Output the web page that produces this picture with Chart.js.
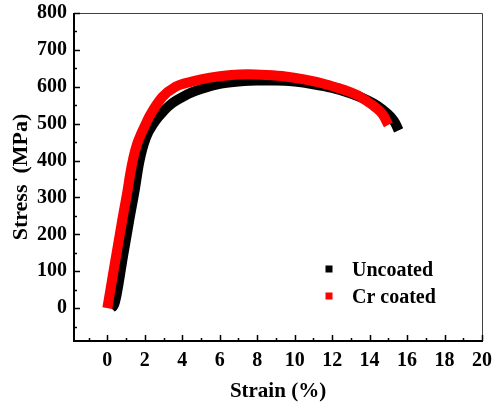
<!DOCTYPE html>
<html><head><meta charset="utf-8">
<script src="https://cdn.jsdelivr.net/npm/chart.js@4/dist/chart.umd.min.js"></script>
<style>html,body{margin:0;padding:0;background:#fff;}canvas{display:block;}</style>
</head><body>
<canvas id="c" width="500" height="409"></canvas>
<script>
const seriesNames = ['Uncoated', 'Cr coated'];
const seriesColors = ['#000000', '#ff0000'];
const uncoatedStrain = [0.2, 0.35, 0.5, 0.83, 1.14, 1.46, 1.7, 2.05, 2.5, 3, 3.45, 4, 4.5, 5, 6, 7, 8, 9, 10, 11, 12, 13, 13.6, 14.2, 14.7, 15.1, 15.35, 15.55];
const uncoatedStress = [0, 8, 38, 139, 230, 320, 395, 461, 503, 534, 555, 572, 585, 594, 608, 614, 617, 617, 614, 607, 597, 582, 570, 555, 538, 520, 503, 482];
const crStrain = [0, 0.43, 0.8, 1.1, 1.2, 1.4, 1.6, 1.8, 2.0, 2.27, 2.93, 3.63, 4.5, 5.4, 6.6, 7.5, 8.5, 9.5, 10.5, 11.5, 12.3, 12.9, 13.4, 13.8, 14.3, 14.7, 15.0];
const crStress = [0, 130, 240, 325, 358, 410, 447, 472, 494, 522, 572, 600, 614, 624, 632, 634, 632, 628, 620, 609, 597, 587, 576, 563, 545, 525, 497];
const xTickLabels = [0, 2, 4, 6, 8, 10, 12, 14, 16, 18, 20];
const yTickLabels = [0, 100, 200, 300, 400, 500, 600, 700, 800];
const xTitle = 'Strain (%)';
const yTitle = 'Stress  (MPa)';

const serif = '"Liberation Serif", "Times New Roman", serif';
const toPts = (xs, ys) => xs.map((v, i) => ({x: v, y: ys[i]}));

const frameTicks = {
  id: 'frameTicks',
  afterDraw(chart) {
    const {ctx, chartArea: a, scales: {x, y}} = chart;
    ctx.save();
    ctx.strokeStyle = '#404040'; ctx.lineWidth = 1;
    ctx.beginPath();
    ctx.moveTo(a.left, a.top + 0.5); ctx.lineTo(a.right + 0.5, a.top + 0.5); ctx.lineTo(a.right + 0.5, a.bottom);
    ctx.stroke();
    ctx.strokeStyle = '#000'; ctx.lineWidth = 2;
    ctx.beginPath();
    ctx.moveTo(a.left, a.top); ctx.lineTo(a.left, a.bottom); ctx.lineTo(a.right + 1, a.bottom);
    ctx.stroke();
    ctx.lineWidth = 1.5;
    ctx.beginPath();
    x.ticks.forEach(t => {
      const px = Math.round(x.getPixelForValue(t.value)) + 0.5;
      const len = xTickLabels.includes(t.value) ? 6 : 3;
      ctx.moveTo(px, a.bottom); ctx.lineTo(px, a.bottom - len);
    });
    y.ticks.forEach(t => {
      const py = Math.round(y.getPixelForValue(t.value)) + 0.5;
      const len = yTickLabels.includes(t.value) ? 6 : 3;
      ctx.moveTo(a.left, py); ctx.lineTo(a.left + len, py);
    });
    ctx.stroke();
    // legend
    ctx.font = 'bold 20px ' + serif;
    ctx.textBaseline = 'alphabetic';
    ctx.textAlign = 'left';
    const lx = a.left + 255, rows = [a.top + 256, a.top + 283];
    chart.data.datasets.forEach((ds, i) => {
      ctx.fillStyle = ds.borderColor;
      ctx.fillRect(lx - 3.5, rows[i] - 3.5, 7, 7);
      ctx.fillStyle = '#000';
      ctx.fillText(ds.label, lx + 23, rows[i] + 6.5);
    });
    ctx.restore();
  }
};

const tickFont = {family: serif, size: 20, weight: 'bold'};
const titleFont = {family: serif, size: 21, weight: 'bold'};
const yTitleFont = {family: serif, size: 22, weight: 'bold'};

new Chart(document.getElementById('c'), {
  type: 'line',
  data: {
    datasets: [
      {label: seriesNames[0], data: toPts(uncoatedStrain, uncoatedStress), borderColor: seriesColors[0], order: 2},
      {label: seriesNames[1], data: toPts(crStrain, crStress), borderColor: seriesColors[1], order: 1}
    ]
  },
  options: {
    responsive: false, animation: false, devicePixelRatio: 1,
    layout: {padding: {top: 13, right: 18, left: 0, bottom: 0}},
    plugins: {legend: {display: false}, tooltip: {enabled: false}},
    elements: {
      point: {radius: 0},
      line: {borderWidth: 10, borderCapStyle: 'butt', borderJoinStyle: 'round', cubicInterpolationMode: 'monotone', fill: false}
    },
    scales: {
      x: {
        type: 'linear', min: -1.78, max: 20,
        grid: {display: false, drawTicks: false}, border: {display: false},
        ticks: {stepSize: 1, autoSkip: false, includeBounds: false, maxRotation: 0, padding: 8, color: '#000', font: tickFont,
          callback: v => xTickLabels.includes(v) ? String(v) : ''},
        title: {display: true, text: xTitle, color: '#000', font: titleFont, padding: {top: 0, bottom: 5}},
        afterFit(s) { s.height = 68; s.paddingLeft = 0; s.paddingRight = 0; }
      },
      y: {
        type: 'linear', min: -89, max: 800,
        grid: {display: false, drawTicks: false}, border: {display: false},
        ticks: {stepSize: 50, autoSkip: false, includeBounds: false, padding: 7, color: '#000', font: tickFont,
          callback: v => yTickLabels.includes(v) ? String(v) : ''},
        title: {display: true, text: yTitle, color: '#000', font: yTitleFont, padding: {top: 8, bottom: 0}},
        afterFit(s) { s.width = 74; s.paddingTop = 0; s.paddingBottom = 0; }
      }
    }
  },
  plugins: [frameTicks]
});
</script>
</body></html>
